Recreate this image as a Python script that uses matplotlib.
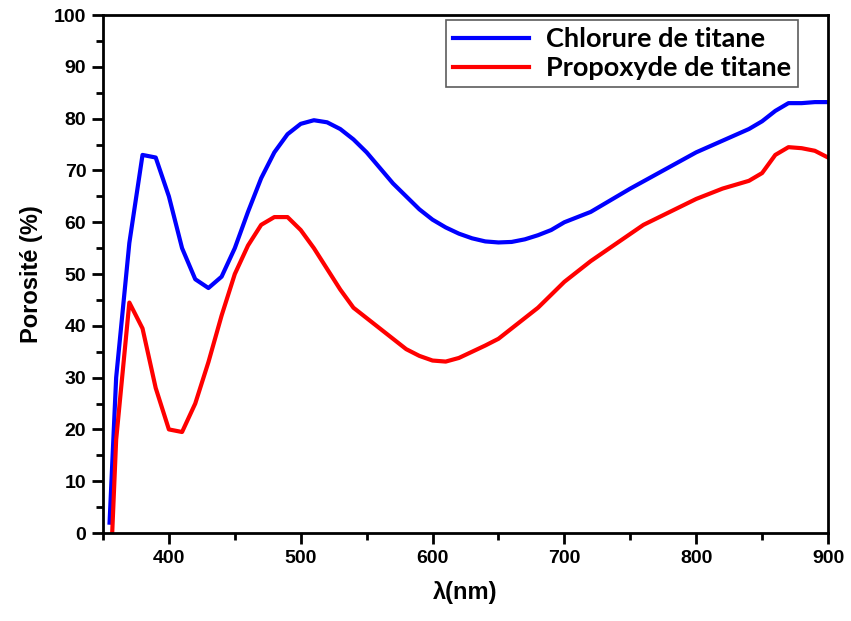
import numpy as np
import matplotlib
matplotlib.use("Agg")
import matplotlib.pyplot as plt
from matplotlib.ticker import MultipleLocator

# Wavelength (nm) and porosity (%)
wl_chlorure = [355, 360, 370, 380, 390, 400, 410, 420, 430, 440, 450, 460, 470,
               480, 490, 500, 510, 520, 530, 540, 550, 560, 570, 580, 590, 600,
               610, 620, 630, 640, 650, 660, 670, 680, 690, 700, 720, 750, 800,
               840, 850, 860, 870, 880, 890, 900]
por_chlorure = [2, 30, 56, 73, 72.5, 65, 55, 49, 47.3, 49.5, 55, 62, 68.5,
                73.5, 77, 79, 79.7, 79.3, 78, 76, 73.5, 70.5, 67.5, 65, 62.5, 60.5,
                59, 57.8, 56.9, 56.3, 56.1, 56.2, 56.7, 57.5, 58.5, 60, 62, 66.5, 73.5,
                78, 79.5, 81.5, 83, 83, 83.2, 83.2]

wl_propoxyde = [357, 360, 370, 380, 390, 400, 410, 420, 430, 440, 450, 460, 470,
                480, 490, 500, 510, 520, 530, 540, 550, 560, 570, 580, 590, 600,
                610, 620, 630, 640, 650, 660, 670, 680, 690, 700, 720, 740, 760,
                780, 800, 820, 840, 850, 860, 870, 880, 890, 900]
por_propoxyde = [0, 18, 44.5, 39.5, 28, 20, 19.5, 25, 33, 42, 50, 55.5, 59.5,
                 61, 61, 58.5, 55, 51, 47, 43.5, 41.5, 39.5, 37.5, 35.5, 34.2, 33.3,
                 33.1, 33.8, 35, 36.2, 37.5, 39.5, 41.5, 43.5, 46, 48.5, 52.5, 56, 59.5,
                 62, 64.5, 66.5, 68, 69.5, 73, 74.5, 74.3, 73.8, 72.5]

labels = ["Chlorure de titane", "Propoxyde de titane"]

plt.rcParams["font.family"] = ["Liberation Sans", "DejaVu Sans"]
plt.rcParams["font.weight"] = "bold"

fig = plt.figure(figsize=(8.51, 6.21), dpi=100)
ax = fig.add_axes([0.121, 0.1417, 0.852, 0.834])

ax.plot(wl_chlorure, por_chlorure, color="#0000ff", lw=3, label=labels[0])
ax.plot(wl_propoxyde, por_propoxyde, color="#ff0000", lw=3, label=labels[1])

ax.set_xlim(350, 900)
ax.set_ylim(0, 100)
ax.xaxis.set_major_locator(MultipleLocator(100))
ax.xaxis.set_minor_locator(MultipleLocator(50))
ax.yaxis.set_major_locator(MultipleLocator(10))
ax.yaxis.set_minor_locator(MultipleLocator(5))
ax.tick_params(which="major", direction="out", length=8, width=2, labelsize=14, pad=4)
ax.tick_params(which="minor", direction="out", length=5, width=2)
for s in ax.spines.values():
    s.set_linewidth(2)

ax.set_xlabel("λ(nm)", fontsize=17, fontweight="bold", labelpad=10)
ax.set_ylabel("Porosité (%)", fontsize=17, fontweight="bold", labelpad=8)

leg = ax.legend(loc="upper right", bbox_to_anchor=(0.959, 0.990), borderaxespad=0,
                prop={"family": "Lato", "weight": "bold", "size": 19.5},
                frameon=True, fancybox=False, edgecolor="#333333",
                handlelength=2.8, handletextpad=0.65, borderpad=0.25,
                labelspacing=0.2)
leg.get_frame().set_linewidth(1.2)

fig.savefig("out.png", dpi=100)
